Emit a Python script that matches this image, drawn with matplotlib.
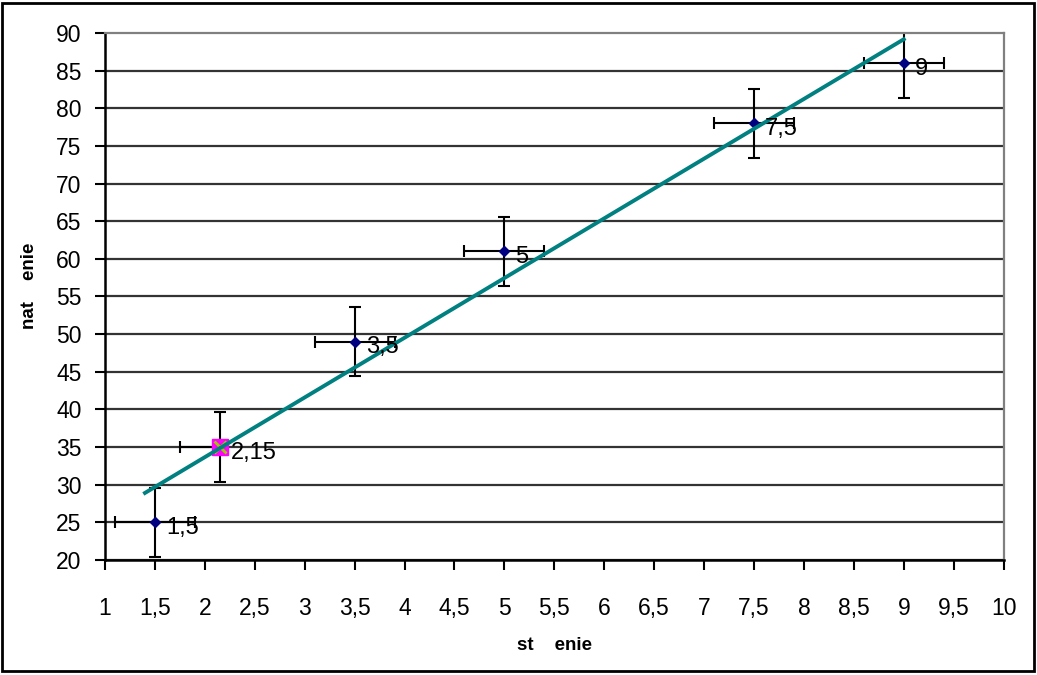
import matplotlib.pyplot as plt
import numpy as np
from matplotlib.patches import Rectangle
from matplotlib.ticker import FuncFormatter

plt.rcParams['font.family'] = ['Liberation Sans', 'DejaVu Sans']

# data
x_main = [1.5, 3.5, 5, 7.5, 9]
y_main = [25, 49, 61, 78, 86]
x_special = [2.15]
y_special = [35]
x_err = 0.4
y_err = 4.6
point_labels = ['1,5', '2,15', '3,5', '5', '7,5', '9']
x_all = [1.5, 2.15, 3.5, 5, 7.5, 9]
y_all = [25, 35, 49, 61, 78, 86]

fig = plt.figure(figsize=(10.37, 6.75), dpi=100)
ax = fig.add_axes([0.1013, 0.1704, 0.8665, 0.7807])

# gridlines
for v in range(20, 90, 5):
    ax.axhline(v, color='#333333', lw=1.6, zorder=1)

# error bars
ax.errorbar(x_main, y_main, xerr=x_err, yerr=y_err, fmt='none',
            ecolor='black', elinewidth=1.5, capsize=4, capthick=1.5, zorder=2)
ax.errorbar(x_special, y_special, xerr=[[x_err], [0]], yerr=y_err, fmt='none',
            ecolor='black', elinewidth=1.5, capsize=4, capthick=1.5, zorder=2)

# markers
ax.plot(x_main, y_main, 'D', color='#000080', ms=5.5, zorder=3)
ax.plot(x_special, y_special, 's', color='#FF00FF', ms=11, zorder=3)
ax.plot(x_special, y_special, 'x', color='#99CC00', ms=8, mew=2, zorder=3)

# linear trendline
slope, inter = np.polyfit(x_all, y_all, 1)
xt = np.array([1.4, 9])
ax.plot(xt, slope * xt + inter, color='#008080', lw=2.8, zorder=4)

for xv, yv, lab in zip(x_all, y_all, point_labels):
    ax.annotate(lab, (xv, yv), xytext=(8, -4), textcoords='offset points',
                va='center', ha='left', fontsize=17, zorder=5)

ax.set_xlim(1, 10)
ax.set_ylim(20, 90)
ax.set_xticks(np.arange(1, 10.01, 0.5))
ax.set_yticks(range(20, 91, 5))
ax.xaxis.set_major_formatter(FuncFormatter(lambda v, p: ('%g' % v).replace('.', ',')))
ax.tick_params(direction='out', length=7, width=1.5, labelsize=16.5)
ax.tick_params(axis='x', pad=20)
ax.tick_params(axis='y', pad=10)

ax.spines['left'].set_linewidth(1.8)
ax.spines['bottom'].set_linewidth(1.8)
ax.spines['top'].set_color('#808080')
ax.spines['right'].set_color('#808080')
ax.spines['top'].set_linewidth(1.6)
ax.spines['right'].set_linewidth(1.6)

ax.set_xlabel('st    enie', fontsize=13.5, fontweight='bold', labelpad=12)
ax.set_ylabel('nat    enie', fontsize=13.5, fontweight='bold')
ax.yaxis.set_label_coords(-0.075, 0.52)

fig.patches.append(Rectangle((0.002, 0.006), 0.995, 0.99, transform=fig.transFigure,
                             fill=False, edgecolor='black', lw=2))

fig.savefig('out.png', dpi=100)
